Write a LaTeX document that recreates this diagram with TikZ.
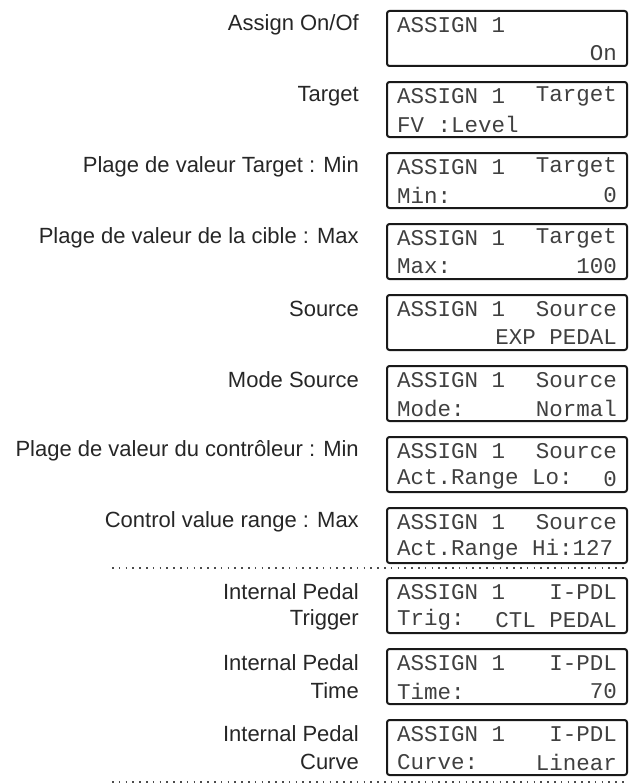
\documentclass[tikz,border=0pt]{standalone}
\usepackage{fontspec}
\setmainfont{Liberation Sans}
\newfontfamily\lcdfont{Liberation Mono}
\tikzset{
  lcd/.style={draw=black!90, line width=2pt, rounded corners=2.5pt, minimum width=240pt, minimum height=55pt, anchor=north west, inner sep=0pt},
  lcdtxt/.style={font=\lcdfont\fontsize{22.5}{24}\selectfont, text=black!75, inner sep=0pt},
  lab/.style={font=\fontsize{22}{26}\selectfont, text=black!85, align=right, anchor=east, inner sep=0pt},
  sep/.style={line width=1.6pt, dash pattern=on 1.6pt off 5.2pt, black!70}
}
\begin{document}
\begin{tikzpicture}[x=1pt,y=-1pt]
    \useasboundingbox (0,0) rectangle (632,784);

    % upper part
    \foreach \i/\lab/\la/\ra/\lb/\rb in {
        0/Assign On\slash Of/ASSIGN 1//{}/On,
        1/Target/ASSIGN 1/Target/FV :Level/{},
        2/Plage de valeur Target : Min/ASSIGN 1/Target/Min:/0,
        3/Plage de valeur de la cible : Max/ASSIGN 1/Target/Max:/100,
        4/Source/ASSIGN 1/Source/{}/EXP PEDAL,
        5/Mode Source/ASSIGN 1/Source/Mode:/Normal,
        6/Plage de valeur du contrôleur : Min/ASSIGN 1/Source/Act.Range Lo:/0,
        7/Control value range : Max/ASSIGN 1/Source/Act.Range Hi:127/{}}
    {
        \node[lcd] (box\i) at (386, 10 + 71*\i) {};
        \node[lcdtxt, anchor=west] (la\i) at ([xshift=11pt, yshift=-15pt]box\i.north west) {\la};
        \node[lcdtxt, anchor=east] (ra\i) at ([xshift=-11pt, yshift=-15pt]box\i.north east) {\ra};
        \node[lcdtxt, anchor=west] (lb\i) at ([xshift=11pt, yshift=14pt]box\i.south west) {\lb};
        \node[lcdtxt, anchor=east] (rb\i) at ([xshift=-11pt, yshift=14pt]box\i.south east) {\rb};
        \node[lab] (lab\i) at ([xshift=-27pt]box\i.north west |- la\i) {\lab};
    }

    % internal pedal
    \foreach \i/\lab/\lb/\rb in {
        8/Trigger/Trig:/CTL PEDAL,
        9/Time/Time:/70,
        10/Curve/Curve:/Linear}
    {
        \node[lcd] (box\i) at (386, 577 + 71*\i - 568) {};
        \node[lcdtxt, anchor=west] (la\i) at ([xshift=11pt, yshift=-15pt]box\i.north west) {ASSIGN 1};
        \node[lcdtxt, anchor=east] (ra\i) at ([xshift=-11pt, yshift=-15pt]box\i.north east) {I-PDL};
        \node[lcdtxt, anchor=west] (lb\i) at ([xshift=11pt, yshift=14pt]box\i.south west) {\lb};
        \node[lcdtxt, anchor=east] (rb\i) at ([xshift=-11pt, yshift=14pt]box\i.south east) {\rb};
        \node[lab] (lab\i) at ([xshift=-27pt]box\i.north west |- la\i) {Internal Pedal};
        \node[lab] (labb\i) at ([xshift=-27pt]box\i.north west |- lb\i) {\lab};
    }

    \coordinate (s1) at (112, 568);
    \coordinate (s2) at (112, 782);
    \draw[sep] (s1) -- (s1 -| box7.east);
    \draw[sep] (s2) -- (s2 -| box10.east);
\end{tikzpicture}
\end{document}
